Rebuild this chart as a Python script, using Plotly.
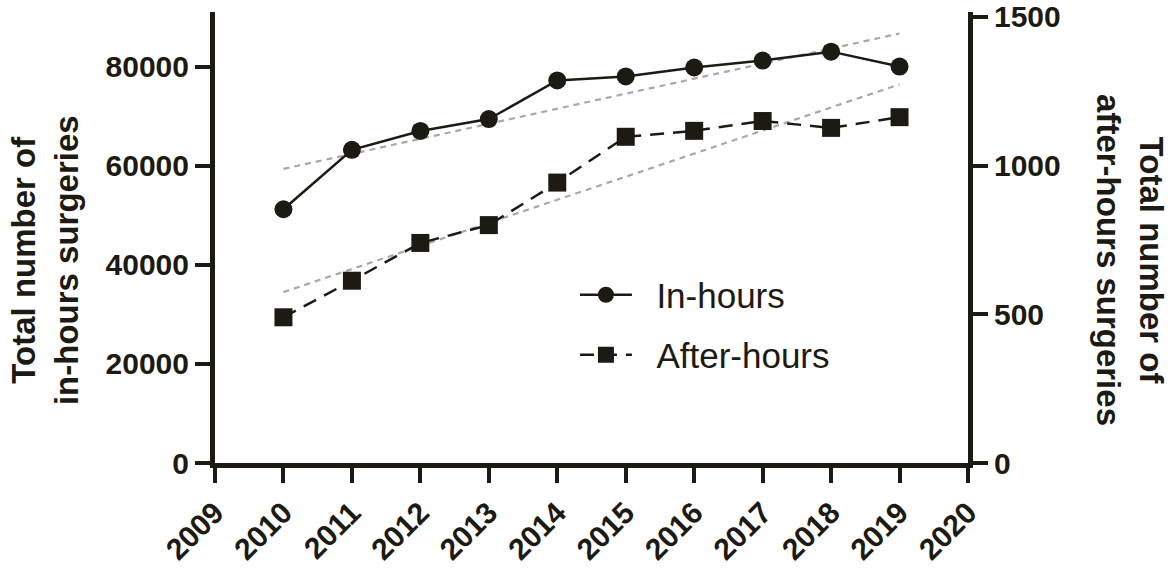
import numpy as np
import plotly.graph_objects as go

years = [2010, 2011, 2012, 2013, 2014, 2015, 2016, 2017, 2018, 2019]
in_hours = [51200, 63200, 67000, 69400, 77200, 78000, 79800, 81200, 83000, 80000]
after_hours = [490, 613, 740, 800, 943, 1097, 1117, 1150, 1127, 1163]
x_ticks = list(range(2009, 2021))
left_ticks = [0, 20000, 40000, 60000, 80000]
right_ticks = [0, 500, 1000, 1500]

INK = "#1c1a12"
GREY = "#a8a8a8"
FONT = "Liberation Sans"

# linear trend lines
yrs = np.array(years, dtype=float)
p_in = np.polyfit(yrs, in_hours, 1)
p_af = np.polyfit(yrs, after_hours, 1)
trend_x = [years[0], years[-1]]

fig = go.Figure()
fig.add_trace(go.Scatter(x=trend_x, y=list(np.polyval(p_in, trend_x)), mode="lines",
                         line=dict(color=GREY, width=2.2, dash="6px,5px"),
                         showlegend=False, hoverinfo="skip"))
fig.add_trace(go.Scatter(x=trend_x, y=list(np.polyval(p_af, trend_x)), mode="lines",
                         line=dict(color=GREY, width=2.2, dash="6px,5px"),
                         showlegend=False, hoverinfo="skip", yaxis="y2"))
fig.add_trace(go.Scatter(x=years, y=in_hours, mode="lines+markers",
                         name="\u00a0\u00a0In-hours",
                         line=dict(color=INK, width=2.5),
                         marker=dict(symbol="circle", size=18, color=INK),
                         legend="legend"))
fig.add_trace(go.Scatter(x=years, y=after_hours, mode="lines+markers",
                         name="\u00a0\u00a0After-hours",
                         line=dict(color=INK, width=2.5, dash="14px,9px"),
                         marker=dict(symbol="square", size=18, color=INK),
                         yaxis="y2", legend="legend2"))

tickfont = dict(family=FONT, size=30, color=INK, weight="bold")
axis_common = dict(showline=True, linewidth=5, linecolor=INK, ticks="outside",
                   ticklen=15, tickwidth=4, tickcolor=INK, showgrid=False,
                   zeroline=False, tickfont=tickfont, ticklabeloverflow="allow",
                   automargin=False)

legend_font = dict(family=FONT, size=35, color=INK)
plot_h = 569 - 12 - 106

fig.update_layout(
    width=1173, height=569,
    margin=dict(l=215, r=205, t=12, b=106),
    plot_bgcolor="white", paper_bgcolor="white",
    xaxis=dict(range=[2009, 2020], tickvals=x_ticks, tickangle=-45, **axis_common),
    yaxis=dict(range=[0, 91000], tickvals=left_ticks, tickformat="d", **axis_common),
    yaxis2=dict(range=[0, 91000 / 60], tickvals=right_ticks, tickformat="d",
                overlaying="y", side="right", **axis_common),
    legend=dict(x=0.478, y=(463 - 295) / plot_h, xanchor="left", yanchor="middle",
                font=legend_font, bgcolor="rgba(0,0,0,0)", itemwidth=52),
    legend2=dict(x=0.478, y=(463 - 355) / plot_h, xanchor="left", yanchor="middle",
                 font=legend_font, bgcolor="rgba(0,0,0,0)", itemwidth=52),
    annotations=[
        dict(text="Total number of<br>in-hours surgeries", xref="paper", yref="paper",
             x=(45 - 215) / 753, y=0.45, xanchor="center", yanchor="middle", textangle=-90,
             showarrow=False, font=dict(family=FONT, size=33, color=INK, weight="bold")),
        dict(text="Total number of<br>after-hours surgeries", xref="paper", yref="paper",
             x=(1130 - 215) / 753, y=0.45, xanchor="center", yanchor="middle", textangle=90,
             showarrow=False, font=dict(family=FONT, size=33, color=INK, weight="bold")),
    ],
)

fig.write_html("out.html")
